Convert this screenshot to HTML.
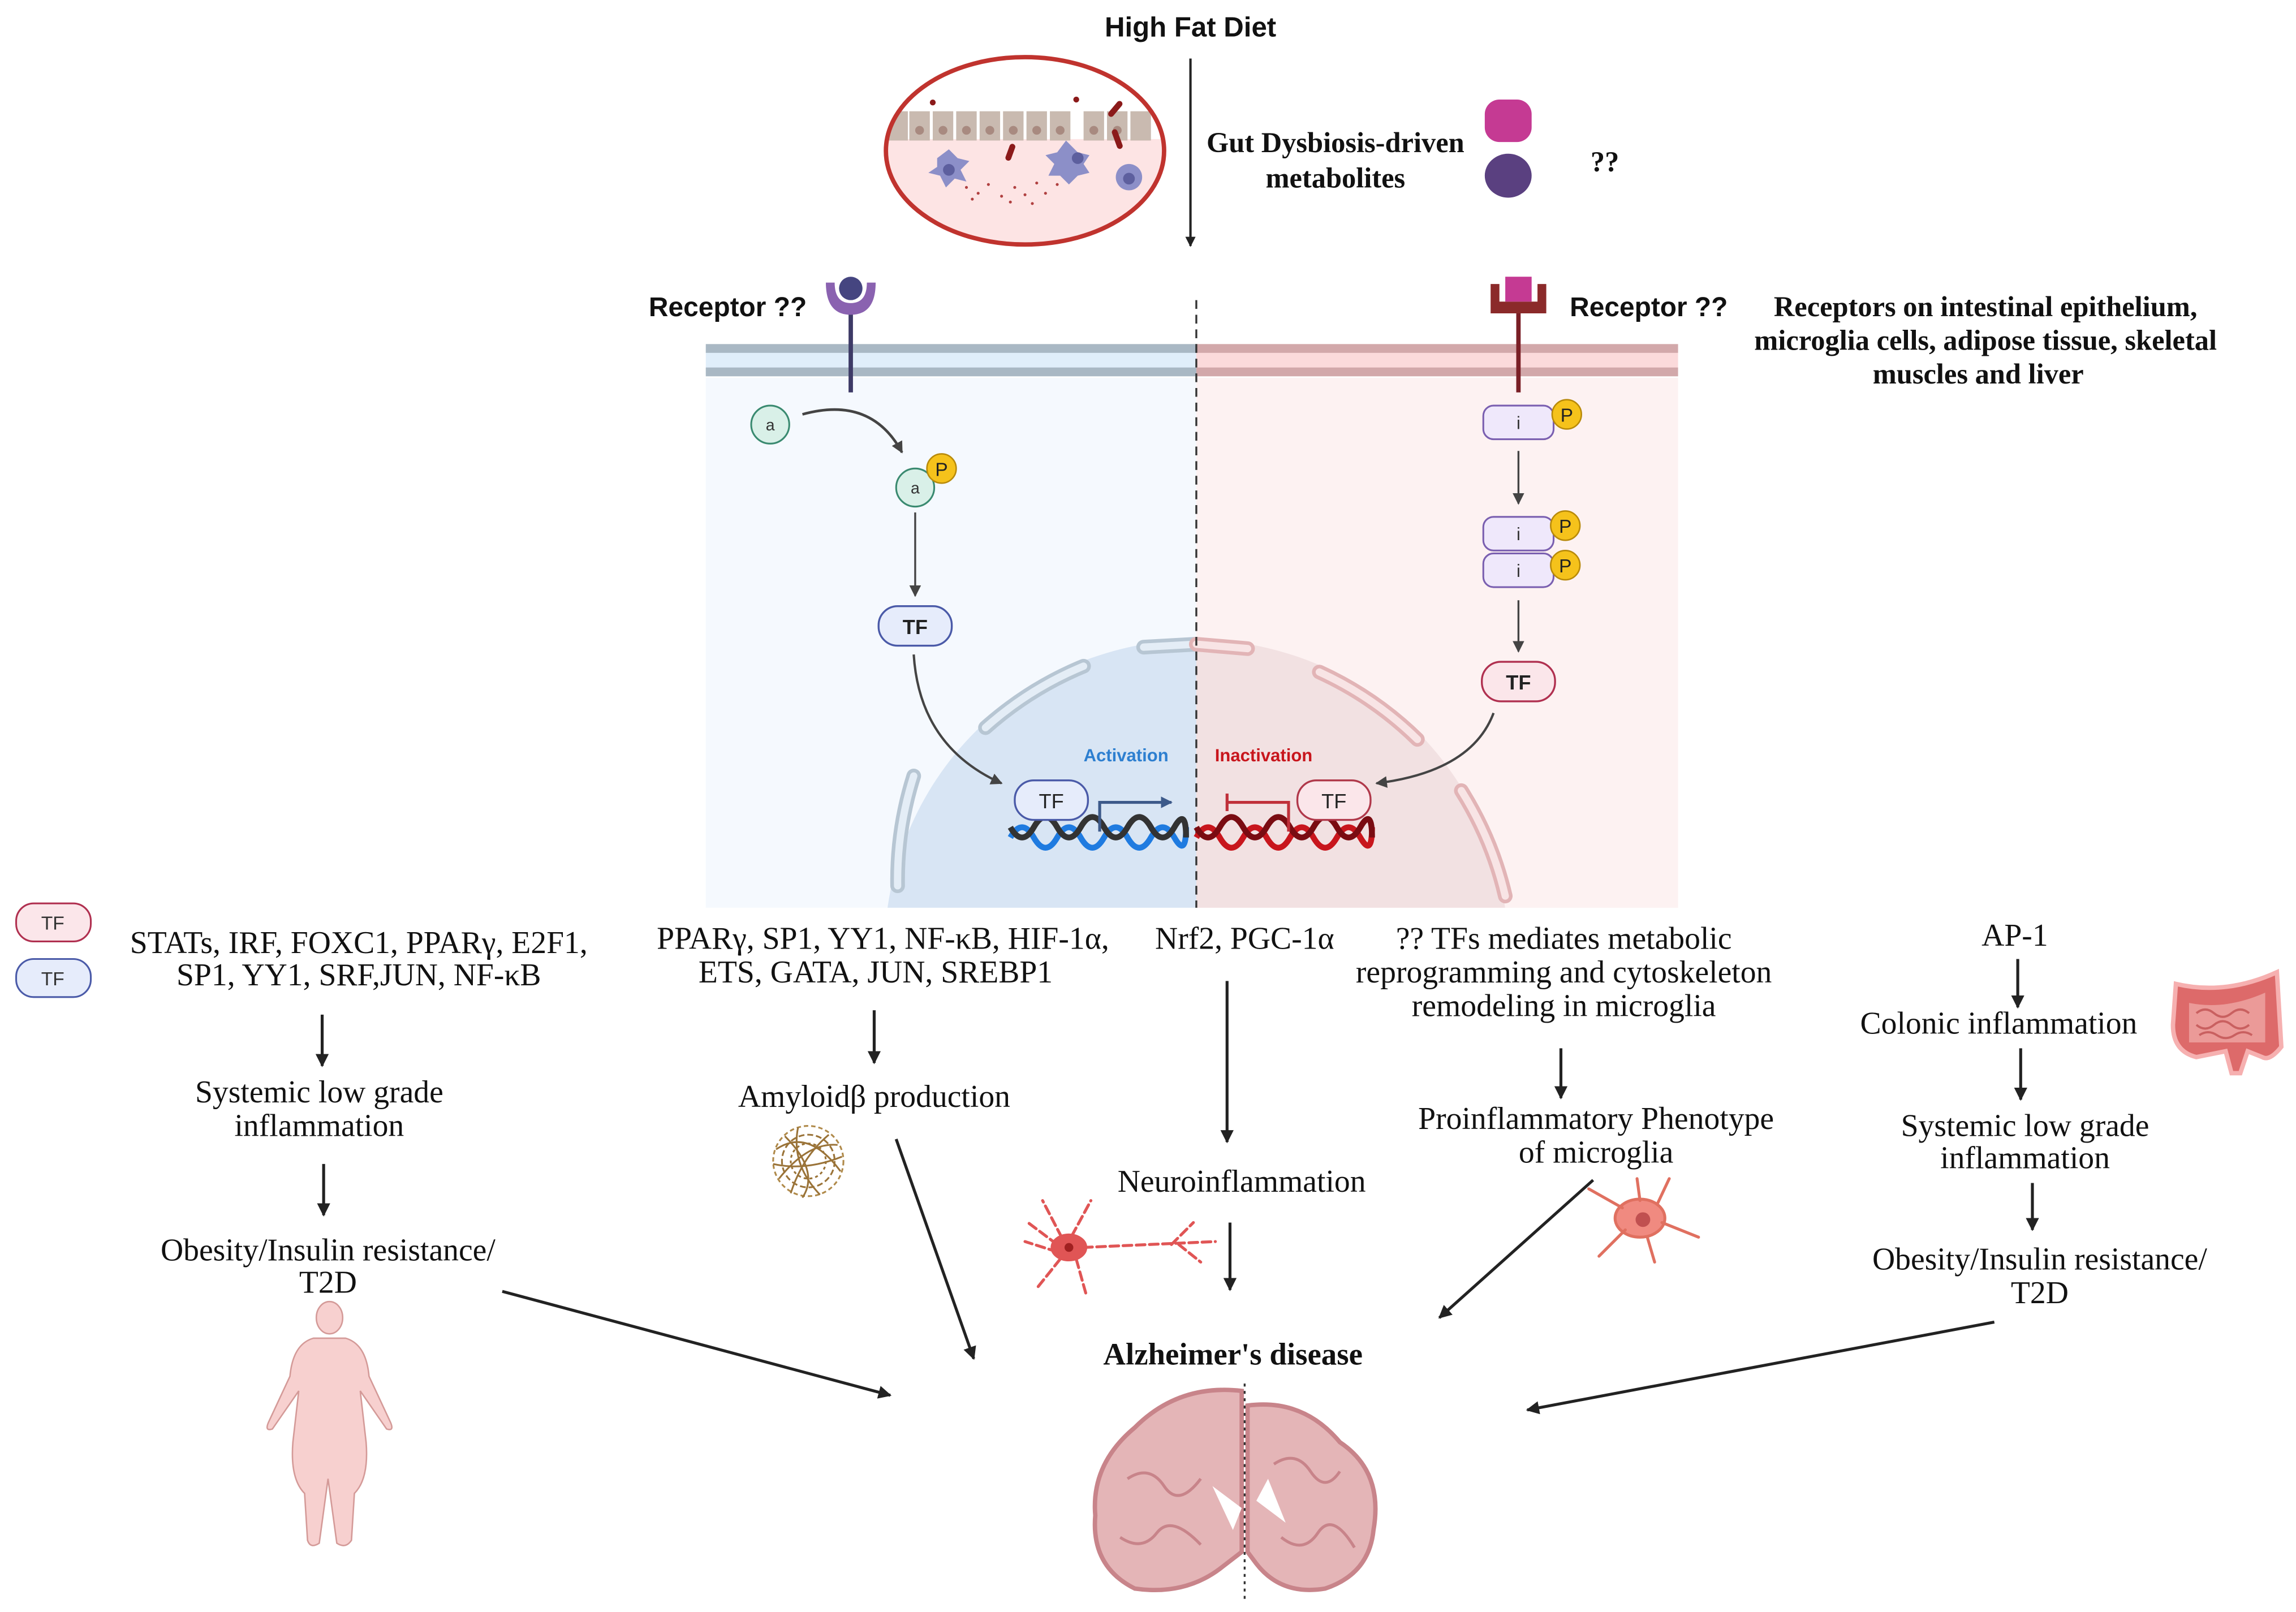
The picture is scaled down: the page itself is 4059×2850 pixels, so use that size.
<!DOCTYPE html>
<html><head><meta charset="utf-8">
<style>
html,body{margin:0;padding:0;background:#fff;}
svg{display:block;}
.s{font-family:"Liberation Serif",serif;font-size:21.5px;fill:#111;text-anchor:middle;}
.sb{font-family:"Liberation Serif",serif;font-size:19.5px;font-weight:bold;fill:#111;text-anchor:middle;}
.ss{font-family:"Liberation Sans",sans-serif;}
</style></head>
<body>
<svg width="4059" height="2850" viewBox="0 0 1568 1101" xmlns="http://www.w3.org/2000/svg">
<defs>
<marker id="ah" viewBox="0 0 10 10" refX="9" refY="5" markerWidth="7" markerHeight="7" orient="auto-start-reverse" markerUnits="userSpaceOnUse">
<path d="M0,0 L10,5 L0,10 z" fill="#222"/></marker>
<marker id="ahb" viewBox="0 0 10 10" refX="9" refY="5" markerWidth="9" markerHeight="9" orient="auto" markerUnits="userSpaceOnUse">
<path d="M0,0 L10,5 L0,10 z" fill="#222"/></marker>
<marker id="ahs" viewBox="0 0 10 10" refX="9" refY="5" markerWidth="8" markerHeight="8" orient="auto" markerUnits="userSpaceOnUse">
<path d="M0,0 L10,5 L0,10 z" fill="#444"/></marker>
<marker id="ahblue" viewBox="0 0 10 10" refX="9" refY="5" markerWidth="8" markerHeight="8" orient="auto" markerUnits="userSpaceOnUse">
<path d="M0,0 L10,5 L0,10 z" fill="#3d5a8a"/></marker>
<clipPath id="gut"><ellipse cx="700" cy="103" rx="95" ry="64"/></clipPath>
<clipPath id="lp"><rect x="482" y="230" width="335" height="390"/></clipPath>
<clipPath id="rp"><rect x="817" y="230" width="329" height="390"/></clipPath>
</defs>

<text x="813" y="25" class="ss" font-size="19" font-weight="bold" text-anchor="middle" fill="#111">High Fat Diet</text>

<g clip-path="url(#gut)">
<rect x="600" y="35" width="200" height="140" fill="#fff"/>
<rect x="600" y="95" width="200" height="80" fill="#fde4e4"/>
<g fill="#c9bab0">
<rect x="606" y="76" width="14" height="20"/><rect x="621" y="76" width="14" height="20"/><rect x="637" y="76" width="14" height="20"/><rect x="653" y="76" width="14" height="20"/><rect x="669" y="76" width="14" height="20"/><rect x="685" y="76" width="14" height="20"/><rect x="701" y="76" width="14" height="20"/><rect x="717" y="76" width="14" height="20"/><rect x="740" y="76" width="14" height="20"/><rect x="756" y="76" width="14" height="20"/><rect x="772" y="76" width="14" height="20"/>
</g>
<g fill="#a88a80"><circle cx="628" cy="89" r="3"/><circle cx="644" cy="89" r="3"/><circle cx="660" cy="89" r="3"/><circle cx="676" cy="89" r="3"/><circle cx="692" cy="89" r="3"/><circle cx="708" cy="89" r="3"/><circle cx="724" cy="89" r="3"/><circle cx="747" cy="89" r="3"/><circle cx="763" cy="89" r="3"/></g>
<g fill="#8c8fc8"><path d="M640 108 l8 -6 6 6 8 2 -6 6 4 8 -8 -2 -6 6 -4 -8 -8 -2 6 -4z"/><path d="M728 96 l8 8 8 2 -4 6 4 6 -8 2 -6 6 -6 -6 -8 0 4 -8 -6 -6 8 -2z"/><circle cx="771" cy="121" r="9"/></g>
<g fill="#5d5f9e"><circle cx="648" cy="116" r="4"/><circle cx="736" cy="108" r="4"/><circle cx="771" cy="122" r="4"/></g>
<g fill="#8b1a1a"><rect x="688" y="98" width="4" height="12" rx="2" transform="rotate(20 690 104)"/><rect x="760" y="68" width="4" height="13" rx="2" transform="rotate(40 762 74)"/><rect x="761" y="88" width="4" height="14" rx="2" transform="rotate(-20 763 95)"/><circle cx="637" cy="70" r="2"/><circle cx="735" cy="68" r="2"/></g>
<g fill="#b04040"><circle cx="660" cy="128" r="1"/><circle cx="668" cy="132" r="1"/><circle cx="675" cy="126" r="1"/><circle cx="684" cy="134" r="1"/><circle cx="693" cy="128" r="1"/><circle cx="700" cy="133" r="1"/><circle cx="708" cy="125" r="1"/><circle cx="714" cy="132" r="1"/><circle cx="722" cy="126" r="1"/><circle cx="664" cy="136" r="1"/><circle cx="690" cy="138" r="1"/><circle cx="705" cy="139" r="1"/></g>
</g>
<ellipse cx="700" cy="103" rx="95" ry="64" fill="none" stroke="#c0332e" stroke-width="3"/>

<line x1="813" y1="40" x2="813" y2="168" stroke="#222" stroke-width="1.6" marker-end="url(#ah)"/>
<text x="912" y="104" class="sb">Gut Dysbiosis-driven</text>
<text x="912" y="128" class="sb">metabolites</text>
<rect x="1014" y="68" width="32" height="29" rx="10" fill="#c53a93"/>
<ellipse cx="1030" cy="120" rx="16" ry="15" fill="#5a4080"/>
<text x="1096" y="117" class="sb" font-size="21">??</text>

<rect x="482" y="258" width="335" height="362" fill="#f5f9fe"/>
<rect x="817" y="258" width="329" height="362" fill="#fdf2f2"/>
<rect x="482" y="236" width="335" height="21" fill="#e0eefa"/>
<rect x="817" y="236" width="329" height="21" fill="#fbdadb"/>
<rect x="482" y="235" width="335" height="6" fill="#a9b8c4"/>
<rect x="482" y="251" width="335" height="6" fill="#a9b8c4"/>
<rect x="817" y="235" width="329" height="6" fill="#d2a8aa"/>
<rect x="817" y="251" width="329" height="6" fill="#d2a8aa"/>

<g clip-path="url(#lp)"><circle cx="817" cy="650" r="213" fill="#d8e5f4"/></g>
<g clip-path="url(#rp)"><circle cx="817" cy="650" r="213" fill="#f2e1e2"/></g>
<g fill="none" stroke-linecap="round">
<g stroke="#b7c6d3" stroke-width="10">
<path d="M613 605 A236 236 0 0 1 624 530"/>
<path d="M673 497 A236 236 0 0 1 740 455"/>
<path d="M781 442 L817 440"/>
</g>
<g stroke="#e4edf6" stroke-width="5">
<path d="M613 605 A236 236 0 0 1 624 530"/>
<path d="M673 497 A236 236 0 0 1 740 455"/>
<path d="M781 442 L817 440"/>
</g>
<g stroke="#e2b4b6" stroke-width="10">
<path d="M817 440 L852 443"/>
<path d="M901 459 A236 236 0 0 1 968 505"/>
<path d="M998 540 A236 236 0 0 1 1028 612"/>
</g>
<g stroke="#f8e4e5" stroke-width="5">
<path d="M817 440 L852 443"/>
<path d="M901 459 A236 236 0 0 1 968 505"/>
<path d="M998 540 A236 236 0 0 1 1028 612"/>
</g>
</g>

<line x1="817" y1="205" x2="817" y2="620" stroke="#333" stroke-width="1.3" stroke-dasharray="6,4"/>

<text x="497" y="216" class="ss" font-size="18.5" font-weight="bold" text-anchor="middle" fill="#111">Receptor ??</text>
<line x1="581" y1="210" x2="581" y2="268" stroke="#3d3a66" stroke-width="3"/>
<path d="M564 193 Q564 215 581 215 Q598 215 598 193 L592 193 Q592 207 581 207 Q570 207 570 193 Z" fill="#8a62b0"/>
<circle cx="581" cy="197" r="8" fill="#454580"/>

<line x1="1037" y1="212" x2="1037" y2="268" stroke="#7a1f26" stroke-width="3"/>
<path d="M1018 194 L1018 214 L1056 214 L1056 194 L1050 194 L1050 206 L1024 206 L1024 194 Z" fill="#8b2a2a"/>
<rect x="1028" y="189" width="18" height="17" fill="#c53a93"/>
<text x="1126" y="216" class="ss" font-size="18.5" font-weight="bold" text-anchor="middle" fill="#111">Receptor ??</text>

<text x="1356" y="216" class="sb">Receptors on intestinal epithelium,</text>
<text x="1356" y="239" class="sb">microglia cells, adipose tissue, skeletal</text>
<text x="1351" y="262" class="sb">muscles and liver</text>

<circle cx="526" cy="290" r="13" fill="#d9f0e8" stroke="#3a8a70" stroke-width="1.2"/>
<text x="526" y="294" class="ss" font-size="11" text-anchor="middle" fill="#333">a</text>
<path d="M548 283 Q595 270 616 309" fill="none" stroke="#444" stroke-width="1.8" marker-end="url(#ahs)"/>
<circle cx="625" cy="333" r="13" fill="#d9f0e8" stroke="#3a8a70" stroke-width="1.2"/>
<text x="625" y="337" class="ss" font-size="11" text-anchor="middle" fill="#333">a</text>
<circle cx="643" cy="320" r="10" fill="#f5c21b" stroke="#b88a0a" stroke-width="1"/>
<text x="643" y="325" class="ss" font-size="13" text-anchor="middle" fill="#222">P</text>
<line x1="625" y1="350" x2="625" y2="407" stroke="#444" stroke-width="1.3" marker-end="url(#ahs)"/>
<rect x="600" y="414" width="50" height="27" rx="13" fill="#e6ecfb" stroke="#4a5aa8" stroke-width="1.3"/>
<text x="625" y="433" class="ss" font-size="14" font-weight="bold" text-anchor="middle" fill="#222">TF</text>
<path d="M624 447 Q628 510 684 535" fill="none" stroke="#444" stroke-width="1.6" marker-end="url(#ahs)"/>

<text x="769" y="520" class="ss" font-size="12" font-weight="bold" text-anchor="middle" fill="#2d7fd0">Activation</text>
<text x="863" y="520" class="ss" font-size="12" font-weight="bold" text-anchor="middle" fill="#c8161d">Inactivation</text>

<g fill="none" stroke-width="4">
<path d="M690 572 q8 -14 16 0 t16 0 t16 0 t16 0 t16 0 t16 0 t16 0 t8 -7" stroke="#1f7be0"/>
<path d="M690 565 q8 14 16 0 t16 0 t16 0 t16 0 t16 0 t16 0 t16 0 t8 7" stroke="#333"/>
<path d="M817 572 q8 -14 16 0 t16 0 t16 0 t16 0 t16 0 t16 0 t16 0 t8 -7" stroke="#c8161d"/>
<path d="M817 565 q8 14 16 0 t16 0 t16 0 t16 0 t16 0 t16 0 t16 0 t8 7" stroke="#7a0c12"/>
</g>
<rect x="693" y="533" width="50" height="27" rx="13" fill="#e6ecfb" stroke="#4a5aa8" stroke-width="1.3"/>
<text x="718" y="552" class="ss" font-size="14" text-anchor="middle" fill="#222">TF</text>
<path d="M751 568 L751 548 L800 548" fill="none" stroke="#3d5a8a" stroke-width="2" marker-end="url(#ahblue)"/>
<path d="M880 568 L880 548 L838 548 M838 542 L838 554" fill="none" stroke="#c0303a" stroke-width="2"/>
<rect x="886" y="533" width="50" height="27" rx="13" fill="#fbe6ea" stroke="#b0384a" stroke-width="1.3"/>
<text x="911" y="552" class="ss" font-size="14" text-anchor="middle" fill="#222">TF</text>

<rect x="1013" y="277" width="48" height="23" rx="7" fill="#efe8fb" stroke="#7a5fb0" stroke-width="1.2"/>
<text x="1037" y="293" class="ss" font-size="12" text-anchor="middle" fill="#333">i</text>
<circle cx="1070" cy="283" r="10" fill="#f5c21b" stroke="#b88a0a"/>
<text x="1070" y="288" class="ss" font-size="13" text-anchor="middle" fill="#222">P</text>
<line x1="1037" y1="308" x2="1037" y2="344" stroke="#444" stroke-width="1.3" marker-end="url(#ahs)"/>
<rect x="1013" y="353" width="48" height="23" rx="7" fill="#efe8fb" stroke="#7a5fb0" stroke-width="1.2"/>
<text x="1037" y="369" class="ss" font-size="12" text-anchor="middle" fill="#333">i</text>
<rect x="1013" y="378" width="48" height="23" rx="7" fill="#efe8fb" stroke="#7a5fb0" stroke-width="1.2"/>
<text x="1037" y="394" class="ss" font-size="12" text-anchor="middle" fill="#333">i</text>
<circle cx="1069" cy="359" r="10" fill="#f5c21b" stroke="#b88a0a"/>
<text x="1069" y="364" class="ss" font-size="13" text-anchor="middle" fill="#222">P</text>
<circle cx="1069" cy="386" r="10" fill="#f5c21b" stroke="#b88a0a"/>
<text x="1069" y="391" class="ss" font-size="13" text-anchor="middle" fill="#222">P</text>
<line x1="1037" y1="410" x2="1037" y2="445" stroke="#444" stroke-width="1.3" marker-end="url(#ahs)"/>
<rect x="1012" y="452" width="50" height="27" rx="13" fill="#fbe6ea" stroke="#b03050" stroke-width="1.3"/>
<text x="1037" y="471" class="ss" font-size="14" font-weight="bold" text-anchor="middle" fill="#222">TF</text>
<path d="M1020 487 Q1005 527 940 535" fill="none" stroke="#444" stroke-width="1.6" marker-end="url(#ahs)"/>

<rect x="11" y="617" width="51" height="26" rx="12" fill="#fbe6ea" stroke="#b03050" stroke-width="1.2"/>
<text x="36" y="635" class="ss" font-size="13" text-anchor="middle" fill="#333">TF</text>
<rect x="11" y="655" width="51" height="26" rx="12" fill="#e6ecfb" stroke="#4a5aa8" stroke-width="1.2"/>
<text x="36" y="673" class="ss" font-size="13" text-anchor="middle" fill="#333">TF</text>

<text x="245" y="651" class="s">STATs, IRF, FOXC1, PPARγ, E2F1,</text>
<text x="245" y="673" class="s">SP1, YY1, SRF,JUN, NF-κB</text>
<text x="218" y="753" class="s">Systemic low grade</text>
<text x="218" y="776" class="s">inflammation</text>
<text x="224" y="861" class="s">Obesity/Insulin resistance/</text>
<text x="224" y="883" class="s">T2D</text>
<text x="603" y="648" class="s">PPARγ, SP1, YY1, NF-κB, HIF-1α,</text>
<text x="598" y="671" class="s">ETS, GATA, JUN, SREBP1</text>
<text x="597" y="756" class="s">Amyloidβ production</text>
<text x="850" y="648" class="s">Nrf2, PGC-1α</text>
<text x="848" y="814" class="s">Neuroinflammation</text>
<text x="1068" y="648" class="s">?? TFs mediates metabolic</text>
<text x="1068" y="671" class="s">reprogramming and cytoskeleton</text>
<text x="1068" y="694" class="s">remodeling in microglia</text>
<text x="1090" y="771" class="s">Proinflammatory Phenotype</text>
<text x="1090" y="794" class="s">of microglia</text>
<text x="1376" y="646" class="s">AP-1</text>
<text x="1365" y="706" class="s">Colonic inflammation</text>
<text x="1383" y="776" class="s">Systemic low grade</text>
<text x="1383" y="798" class="s">inflammation</text>
<text x="1393" y="867" class="s">Obesity/Insulin resistance/</text>
<text x="1393" y="890" class="s">T2D</text>
<text x="842" y="932" font-family="Liberation Serif,serif" font-size="21.2" font-weight="bold" text-anchor="middle" fill="#111">Alzheimer's disease</text>

<g stroke="#222" stroke-width="2" fill="none">
<line x1="220" y1="693" x2="220" y2="728" marker-end="url(#ahb)"/>
<line x1="221" y1="795" x2="221" y2="830" marker-end="url(#ahb)"/>
<line x1="597" y1="690" x2="597" y2="726" marker-end="url(#ahb)"/>
<line x1="612" y1="778" x2="665" y2="928" marker-end="url(#ahb)"/>
<line x1="343" y1="882" x2="608" y2="953" marker-end="url(#ahb)"/>
<line x1="838" y1="670" x2="838" y2="780" marker-end="url(#ahb)"/>
<line x1="840" y1="835" x2="840" y2="881" marker-end="url(#ahb)"/>
<line x1="1066" y1="716" x2="1066" y2="750" marker-end="url(#ahb)"/>
<line x1="1088" y1="806" x2="983" y2="900" marker-end="url(#ahb)"/>
<line x1="1378" y1="655" x2="1378" y2="688" marker-end="url(#ahb)"/>
<line x1="1380" y1="716" x2="1380" y2="751" marker-end="url(#ahb)"/>
<line x1="1388" y1="808" x2="1388" y2="840" marker-end="url(#ahb)"/>
<line x1="1362" y1="903" x2="1043" y2="963" marker-end="url(#ahb)"/>
</g>

<g fill="none" stroke="#9a7338" stroke-width="1.2">
<circle cx="552" cy="793" r="24" stroke="#b08a4a" stroke-dasharray="3,2"/>
<circle cx="552" cy="793" r="18" stroke-dasharray="4,2"/>
<circle cx="552" cy="793" r="12" stroke-dasharray="2,2"/>
<path d="M530 785 Q552 770 574 800 M532 805 Q552 780 572 782 M540 815 Q548 790 566 775 M536 776 Q560 800 548 818 M528 795 Q550 800 575 790 M545 770 Q540 795 560 816"/>
</g>

<g fill="#e05555" stroke="#e05555" stroke-linecap="round">
<ellipse cx="730" cy="852" rx="12" ry="9"/>
<g fill="none" stroke-width="2" stroke-dasharray="6,3">
<path d="M740 852 L830 848"/><path d="M725 845 L712 820"/><path d="M732 844 L745 820"/><path d="M722 855 L700 848"/><path d="M724 860 L708 880"/><path d="M735 860 L742 885"/><path d="M722 850 L702 835"/><path d="M800 850 L815 835 M805 850 L820 862"/>
</g>
<circle cx="730" cy="852" r="3" fill="#a02020" stroke="none"/>
</g>

<g fill="#f08a80" stroke="#e07060" stroke-width="2" stroke-linecap="round">
<ellipse cx="1120" cy="832" rx="17" ry="13"/>
<path d="M1108 825 L1085 812 M1132 822 L1140 805 M1135 835 L1160 845 M1110 840 L1092 858 M1125 845 L1130 862 M1120 820 L1118 805"/>
<circle cx="1122" cy="833" r="5" fill="#c05050" stroke="none"/>
</g>

<!-- intestine -->
<g>
<path d="M1486 672 Q1520 680 1555 664 L1558 715 Q1550 725 1545 722 L1535 718 L1530 733 L1524 733 L1520 718 L1500 722 Q1484 718 1484 700 Z" fill="#dd6a6a" stroke="#f6b0b0" stroke-width="3"/>
<path d="M1495 685 Q1520 690 1547 678 L1547 712 L1495 712 Z" fill="#eb9a98"/>
<path d="M1500 692 q6 -5 12 0 t12 0 t12 0 M1500 700 q6 5 12 0 t12 0 t12 0 M1502 707 q6 -4 12 0 t12 0 t12 0" fill="none" stroke="#c96060" stroke-width="1.5"/>
</g>

<g fill="#f7d0cf" stroke="#d49a98" stroke-width="1">
<ellipse cx="225" cy="900" rx="9" ry="11"/>
<path d="M214 914 Q200 918 198 940 L184 970 Q180 978 186 976 L204 950 L200 985 Q198 1010 208 1020 L210 1052 Q212 1058 218 1054 L224 1010 L230 1054 Q236 1058 240 1052 L242 1020 Q252 1010 250 985 L246 950 L264 976 Q270 978 266 970 L252 940 Q250 918 236 914 Z"/>
</g>

<g fill="#e4b5b7" stroke="#c8848a" stroke-width="3">
<path d="M848 950 Q805 945 775 975 Q745 1000 748 1035 Q745 1070 775 1085 Q810 1090 835 1070 L848 1060 Z"/>
<path d="M852 960 Q890 955 915 985 Q945 1005 938 1045 Q935 1075 905 1085 Q875 1090 858 1068 L852 1060 Z"/>
</g>
<g fill="none" stroke="#c8848a" stroke-width="2">
<path d="M770 1010 q15 -10 25 5 t25 -5 M765 1050 q15 10 25 -3 t30 8 M870 1000 q15 -10 25 5 t20 0 M875 1050 q15 12 25 -3 t25 10"/>
</g>
<path d="M828 1015 L842 1045 L848 1030 Z M858 1025 L866 1010 L878 1040 Z" fill="#fff"/>
<line x1="850" y1="945" x2="850" y2="1092" stroke="#333" stroke-width="1.3" stroke-dasharray="2,3"/>
</svg>
</body></html>
